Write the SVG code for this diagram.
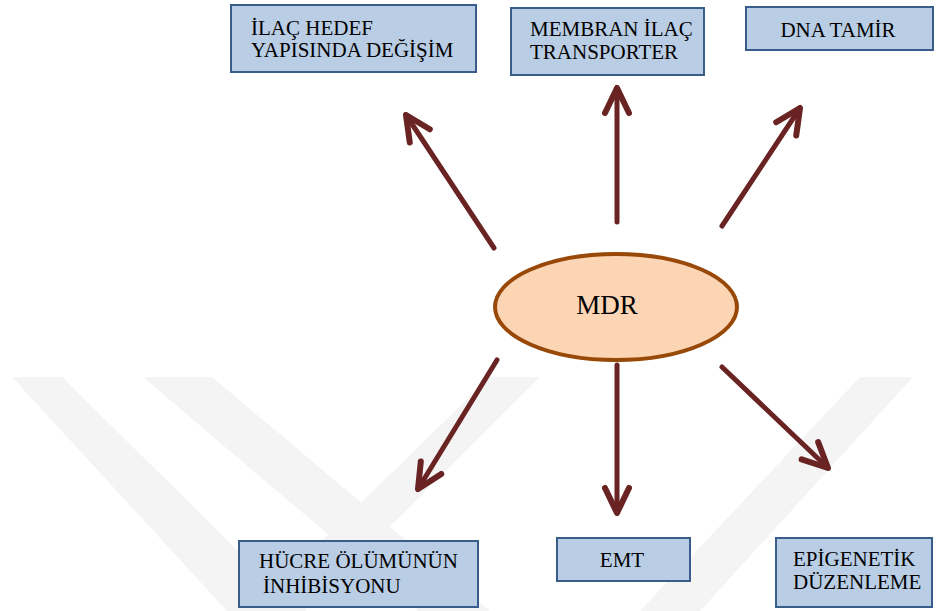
<svg xmlns="http://www.w3.org/2000/svg" width="936" height="611" viewBox="0 0 936 611">
<defs>
<style>
.box{fill:#b9cde5;stroke:#385d8a;stroke-width:2}
.arr{fill:none;stroke:#6a2323;stroke-width:5;stroke-linecap:round;stroke-linejoin:round}
.wm{fill:#f4f4f4}
</style>
<marker id="head" markerUnits="userSpaceOnUse" markerWidth="40" markerHeight="40" viewBox="-30 -20 40 40" refX="0" refY="0" orient="auto">
<path d="M-25,-12 L0,0 L-25,12" fill="none" stroke="#6a2323" stroke-width="6" stroke-linecap="round" stroke-linejoin="round"/>
</marker>
</defs>
<rect width="936" height="611" fill="#ffffff"/>
<g id="watermark">
<polygon class="wm" points="12,377 62,377 299,611 227,611"/>
<polygon class="wm" points="143,377 212,377 490,611 418,611"/>
<polygon class="wm" points="490,377 540,377 305,611 250,611"/>
<polygon class="wm" points="860,377 913,377 700,611 640,611"/>
</g>
<g id="connectors">
<line class="arr" x1="494" y1="248" x2="406" y2="115" marker-end="url(#head)"/>
<line class="arr" x1="617" y1="222" x2="617" y2="88" marker-end="url(#head)"/>
<line class="arr" x1="722" y1="226" x2="800" y2="108" marker-end="url(#head)"/>
<line class="arr" x1="497" y1="360" x2="418" y2="489" marker-end="url(#head)"/>
<line class="arr" x1="617" y1="365" x2="617" y2="513" marker-end="url(#head)"/>
<line class="arr" x1="722" y1="367" x2="828" y2="468" marker-end="url(#head)"/>
</g>
<g id="nodes" font-family="'Liberation Serif', 'Times New Roman', serif" font-size="21" fill="#000000">
<g id="mdr">
<ellipse cx="616" cy="307" rx="121" ry="53" fill="#fcd5b4" stroke="#984807" stroke-width="4"/>
<text x="607" y="314" font-size="27" text-anchor="middle">MDR</text>
</g>
<g id="ilac-hedef">
<rect class="box" x="231" y="5" width="245" height="67"/>
<text x="251" y="35">İLAÇ HEDEF</text>
<text x="251" y="57">YAPISINDA DEĞİŞİM</text>
</g>
<g id="membran">
<rect class="box" x="511" y="8" width="193" height="67"/>
<text x="530" y="36">MEMBRAN İLAÇ</text>
<text x="530" y="59">TRANSPORTER</text>
</g>
<g id="dna-tamir">
<rect class="box" x="746" y="7" width="187" height="43"/>
<text x="838" y="37" text-anchor="middle">DNA TAMİR</text>
</g>
<g id="hucre">
<rect class="box" x="239" y="541" width="239" height="66"/>
<text x="259" y="568">HÜCRE ÖLÜMÜNÜN</text>
<text x="263" y="593">İNHİBİSYONU</text>
</g>
<g id="emt">
<rect class="box" x="557" y="538" width="133" height="43"/>
<text x="622" y="567" text-anchor="middle">EMT</text>
</g>
<g id="epigenetik">
<rect class="box" x="776" y="538" width="156" height="69"/>
<text x="793" y="566">EPİGENETİK</text>
<text x="793" y="589">DÜZENLEME</text>
</g>
</g>
</svg>
